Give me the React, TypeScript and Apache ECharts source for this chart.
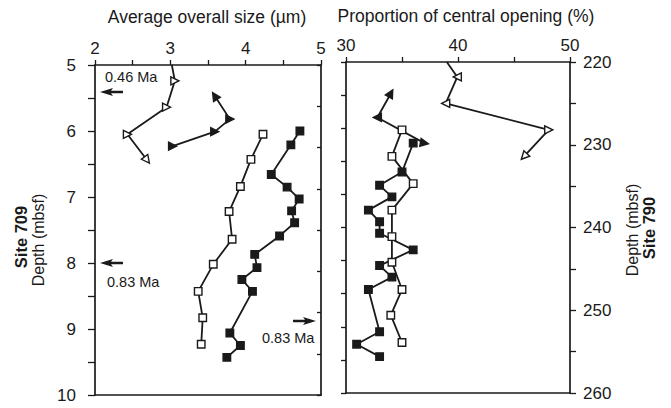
import React, { useEffect, useRef } from "react";
import * as echarts from "echarts";

// ---- Site 709 (left panel): average overall size (µm) vs depth (mbsf)
const sizeTriOpenX = [3.02, 3.06, 2.95, 2.43, 2.69];
const sizeTriOpenY = [5.0, 5.24, 5.64, 6.05, 6.44];
const sizeTriFillX = [3.59, 3.79, 3.59, 3.03];
const sizeTriFillY = [5.47, 5.82, 6.01, 6.23];
const sizeSqOpenX = [4.23, 4.07, 3.93, 3.78, 3.82, 3.57, 3.37, 3.43, 3.41];
const sizeSqOpenY = [6.05, 6.43, 6.84, 7.22, 7.64, 8.02, 8.43, 8.83, 9.23];
const sizeSqFillX = [4.72, 4.6, 4.34, 4.55, 4.71, 4.61, 4.65, 4.45, 4.12, 4.15, 3.95, 4.09, 3.79, 3.93, 3.75];
const sizeSqFillY = [6.0, 6.21, 6.66, 6.85, 7.03, 7.21, 7.39, 7.59, 7.87, 8.07, 8.25, 8.43, 9.06, 9.25, 9.43];

// ---- Site 790 (right panel): proportion of central opening (%) vs depth (mbsf)
const openTriOpenX = [39.0, 39.94, 38.9, 48.1, 45.9];
const openTriOpenY = [220.0, 221.8, 225.0, 228.2, 231.4];
const openTriFillX = [34.0, 32.8, 37.0];
const openTriFillY = [223.8, 226.7, 229.8];
const openSqOpenX = [35.0, 34.1, 36.0, 34.1, 34.1, 34.1, 35.0, 34.0, 35.0];
const openSqOpenY = [228.2, 231.4, 234.7, 237.9, 241.1, 244.2, 247.5, 250.6, 253.9];
const openSqFillX = [36.0, 35.0, 33.0, 34.1, 32.0, 33.0, 33.0, 36.0, 33.0, 34.1, 32.0, 33.0, 30.95, 33.0];
const openSqFillY = [229.8, 233.3, 234.9, 236.3, 237.9, 239.3, 240.7, 242.7, 244.6, 246.0, 247.5, 252.6, 254.1, 255.6];

// tick labels
const sizeTicks = [2, 3, 4, 5];
const depth709Ticks = [5, 6, 7, 8, 9, 10];
const openTicks = [30, 40, 50];
const depth790Ticks = [220, 230, 240, 250, 260];

// marker orientation (style), degrees counter-clockwise
const rotTriOpenL = [0, -90, -90, -90, -143];
const rotTriFillL = [33, -90, -90, -90];
const rotTriOpenR = [0, 90, 90, -90, 137];
const rotTriFillR = [-29, 90, -100];

const INK = "#1a1a1a";
const FONT = "'Liberation Sans', Arial, Helvetica, sans-serif";

function pts(xs: number[], ys: number[], rot?: number[], noFirst?: boolean) {
  return xs.map((x, i) => {
    const item: any = { value: [x, ys[i]] };
    if (rot) item.symbolRotate = rot[i];
    if (noFirst && i === 0) item.symbol = "none";
    return item;
  });
}

function lineSeries(xi: number, yi: number, data: any[], symbol: string, filled: boolean, size: number) {
  return {
    type: "line",
    xAxisIndex: xi,
    yAxisIndex: yi,
    data,
    symbol,
    symbolSize: size,
    showSymbol: true,
    clip: false,
    lineStyle: { color: INK, width: 1.8 },
    itemStyle: { color: filled ? INK : "#ffffff", borderColor: INK, borderWidth: 1.4 },
    z: filled ? 3 : 4,
  };
}

function leftArrow(x: number, y: number) {
  return [
    {
      type: "polygon",
      shape: { points: [[x, y], [x + 13, y - 4], [x + 11, y - 1.2], [x + 23, y - 1.2], [x + 23, y + 1.2], [x + 11, y + 1.2], [x + 13, y + 4]] },
      style: { fill: INK },
    },
  ];
}
function rightArrow(x: number, y: number) {
  return [
    {
      type: "polygon",
      shape: { points: [[x, y], [x - 13, y - 4], [x - 11, y - 1.2], [x - 23, y - 1.2], [x - 23, y + 1.2], [x - 11, y + 1.2], [x - 13, y + 4]] },
      style: { fill: INK },
    },
  ];
}

function text(t: string, x: number, y: number, size: number, opts: any = {}) {
  return {
    type: "text",
    x,
    y,
    rotation: opts.rotation || 0,
    style: {
      text: t,
      fill: INK,
      fontSize: size,
      fontFamily: FONT,
      fontWeight: opts.bold ? "bold" : "normal",
      textAlign: opts.align || "center",
      textVerticalAlign: "middle",
    },
  };
}

export default function App() {
  const ref = useRef<HTMLDivElement>(null);
  useEffect(() => {
    if (!ref.current) return;
    const chart = echarts.init(ref.current, undefined, { renderer: "svg" });
    const axisLine = { show: true, lineStyle: { color: INK, width: 1.7 } };
    const label = (margin: number, ticks: number[]) => ({
      show: true,
      color: INK,
      fontSize: 17,
      fontFamily: FONT,
      margin,
      formatter: (v: number) => (ticks.includes(v) ? String(v) : ""),
    });
    chart.setOption({
      animation: false,
      backgroundColor: "#ffffff",
      grid: [
        { left: 95, top: 65, width: 226, height: 330 },
        { left: 346, top: 62, width: 224, height: 331 },
      ],
      xAxis: [
        {
          gridIndex: 0, type: "value", position: "top", min: 2, max: 5, interval: 1,
          axisLine, axisTick: { show: true, length: 5, lineStyle: { color: INK, width: 1.3 } },
          minorTick: { show: true, splitNumber: 2, length: 5, lineStyle: { color: INK, width: 1.3 } },
          axisLabel: label(8, sizeTicks), splitLine: { show: false },
        },
        {
          gridIndex: 0, type: "value", position: "bottom", min: 2, max: 5,
          axisLine, axisTick: { show: false }, axisLabel: { show: false }, splitLine: { show: false },
        },
        {
          gridIndex: 1, type: "value", position: "top", min: 30, max: 50, interval: 10,
          axisLine, axisTick: { show: true, length: 5, lineStyle: { color: INK, width: 1.3 } },
          minorTick: { show: true, splitNumber: 2, length: 5, lineStyle: { color: INK, width: 1.3 } },
          axisLabel: label(8, openTicks), splitLine: { show: false },
        },
        {
          gridIndex: 1, type: "value", position: "bottom", min: 30, max: 50,
          axisLine, axisTick: { show: false }, axisLabel: { show: false }, splitLine: { show: false },
        },
      ],
      yAxis: [
        {
          gridIndex: 0, type: "value", position: "left", inverse: true, min: 5, max: 10, interval: 1,
          axisLine, axisTick: { show: true, length: 7, lineStyle: { color: INK, width: 1.3 } },
          minorTick: { show: true, splitNumber: 2, length: 7, lineStyle: { color: INK, width: 1.3 } },
          axisLabel: label(19, depth709Ticks), splitLine: { show: false },
        },
        {
          gridIndex: 0, type: "value", position: "right", inverse: true, min: 220, max: 260, interval: 5,
          axisLine, axisTick: { show: true, inside: true, length: 4, lineStyle: { color: INK, width: 1.3 } },
          axisLabel: { show: false }, splitLine: { show: false },
        },
        {
          gridIndex: 1, type: "value", position: "left", inverse: true, min: 5, max: 10, interval: 0.5,
          axisLine, axisTick: { show: true, length: 5, lineStyle: { color: INK, width: 1.3 } },
          axisLabel: { show: false }, splitLine: { show: false },
        },
        {
          gridIndex: 1, type: "value", position: "right", inverse: true, min: 220, max: 260, interval: 10,
          axisLine, axisTick: { show: true, length: 6, lineStyle: { color: INK, width: 1.3 } },
          minorTick: { show: true, splitNumber: 2, length: 6, lineStyle: { color: INK, width: 1.3 } },
          axisLabel: label(13, depth790Ticks), splitLine: { show: false },
        },
      ],
      series: [
        lineSeries(0, 0, pts(sizeTriOpenX, sizeTriOpenY, rotTriOpenL, true), "triangle", false, 8),
        lineSeries(0, 0, pts(sizeTriFillX, sizeTriFillY, rotTriFillL), "triangle", true, 8),
        lineSeries(0, 0, pts(sizeSqOpenX, sizeSqOpenY), "rect", false, 7.5),
        lineSeries(0, 0, pts(sizeSqFillX, sizeSqFillY), "rect", true, 7.5),
        lineSeries(2, 3, pts(openTriOpenX, openTriOpenY, rotTriOpenR, true), "triangle", false, 8),
        lineSeries(2, 3, pts(openTriFillX, openTriFillY, rotTriFillR), "triangle", true, 8),
        lineSeries(2, 3, pts(openSqOpenX, openSqOpenY), "rect", false, 7.5),
        lineSeries(2, 3, pts(openSqFillX, openSqFillY), "rect", true, 7.5),
      ],
      graphic: [
        text("Average overall size (\u00b5m)", 207, 17, 17.5),
        text("Proportion of central opening (%)", 466, 16, 17.5),
        text("Site 709", 21, 237, 16.5, { bold: true, rotation: Math.PI / 2 }),
        text("Depth (mbsf)", 38, 240, 16, { rotation: Math.PI / 2 }),
        text("Depth (mbsf)", 632, 230, 16, { rotation: Math.PI / 2 }),
        text("Site 790", 649, 228, 16.5, { bold: true, rotation: Math.PI / 2 }),
        text("0.46 Ma", 105, 77, 14.5, { align: "left" }),
        text("0.83 Ma", 107, 282, 14.5, { align: "left" }),
        text("0.83 Ma", 262, 338, 14.5, { align: "left" }),
        ...leftArrow(100, 92),
        ...leftArrow(100, 263),
        ...rightArrow(316, 321),
      ],
    });
    return () => chart.dispose();
  }, []);
  return <div ref={ref} style={{ position: "absolute", left: 0, top: 0, width: 671, height: 408 }} />;
}
